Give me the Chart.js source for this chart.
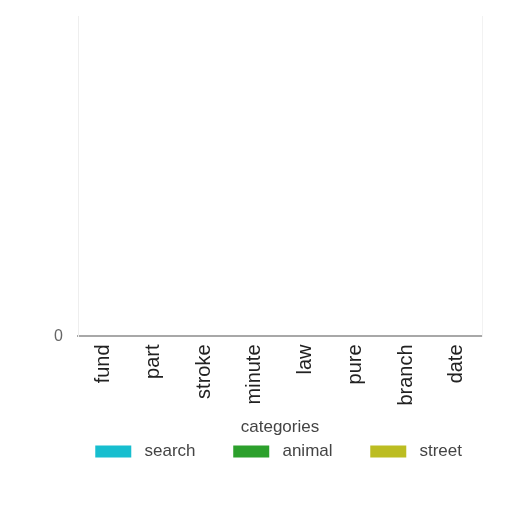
<!DOCTYPE html>
<html>
<head>
<meta charset="utf-8">
<script src="https://cdn.jsdelivr.net/npm/chart.js@4/dist/chart.umd.min.js"></script>
<style>
  html, body { margin: 0; padding: 0; background: #fff; }
  #wrap { width: 512px; height: 512px; }
</style>
</head>
<body>
<div id="wrap"><canvas id="chart" width="512" height="512"></canvas></div>
<script>
const categories = ['fund', 'part', 'stroke', 'minute', 'law', 'pure', 'branch', 'date'];
const searchValues = [0, 0, 0, 0, 0, 0, 0, 0];
const animalValues = [0, 0, 0, 0, 0, 0, 0, 0];
const streetValues = [0, 0, 0, 0, 0, 0, 0, 0];
const yTicks = [0];

const fontFamily = '"Liberation Sans", Arial, sans-serif';

new Chart(document.getElementById('chart'), {
  type: 'bar',
  data: {
    labels: categories,
    datasets: [
      { label: 'search', data: searchValues, backgroundColor: '#17becf' },
      { label: 'animal', data: animalValues, backgroundColor: '#2ca02c' },
      { label: 'street', data: streetValues, backgroundColor: '#bcbd22' }
    ]
  },
  options: {
    responsive: false,
    animation: false,
    layout: { padding: { top: 11, right: 0, left: 50, bottom: 42 } },
    plugins: {
      legend: {
        position: 'bottom',
        labels: {
          boxWidth: 36, boxHeight: 12, padding: 33,
          color: '#444', font: { family: fontFamily, size: 17 },
          // spaces around the text widen the gap to the box and between entries
          generateLabels: chart => Chart.defaults.plugins.legend.labels.generateLabels(chart)
            .map(item => ({ ...item, text: ' ' + item.text + ' ' }))
        }
      },
      tooltip: { enabled: false }
    },
    scales: {
      x: {
        grid: { display: false },
        border: { color: '#a8a8a8', width: 2 },
        ticks: {
          color: '#222', maxRotation: 90, minRotation: 90, padding: 0,
          font: { family: fontFamily, size: 20 }
        },
        title: {
          display: true, text: 'categories', color: '#444',
          font: { family: fontFamily, size: 17 }, padding: { top: 12, bottom: -28 }
        }
      },
      y: {
        min: 0, max: 1,
        grid: { display: false },
        border: { color: '#eee', width: 1 },
        afterBuildTicks: axis => { axis.ticks = yTicks.map(v => ({ value: v })); },
        afterFit: axis => { axis.width = 28; },
        ticks: { color: '#666', padding: 7, font: { family: fontFamily, size: 16 } }
      },
      y2: {
        position: 'right',
        min: 0, max: 1,
        grid: { display: false },
        border: { color: '#f2f2f2', width: 1 },
        ticks: { display: false },
        afterFit: axis => { axis.width = 30; }
      }
    }
  }
});
</script>
</body>
</html>
